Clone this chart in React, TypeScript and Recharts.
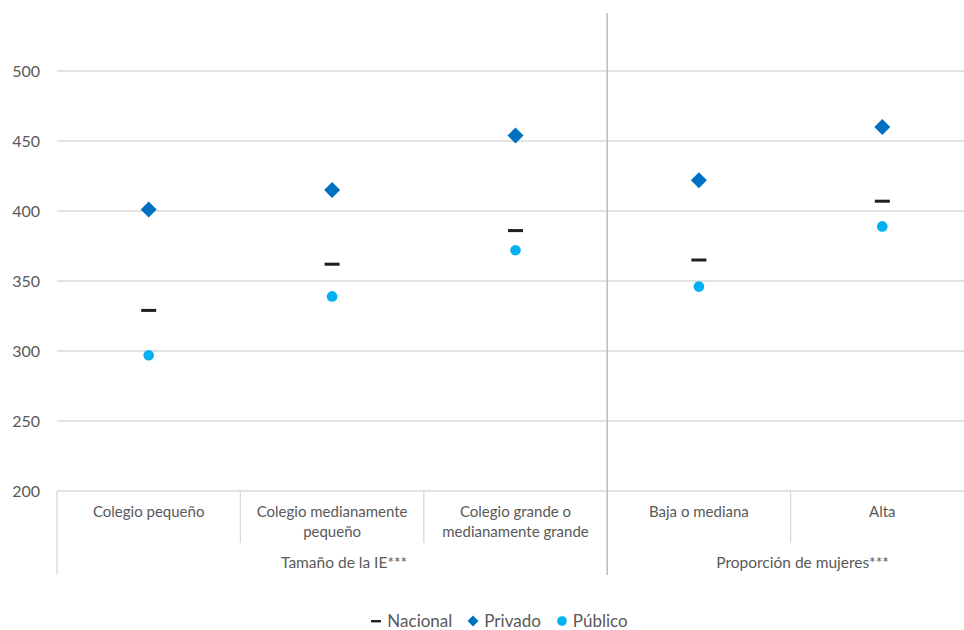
import React from "react";
import { ScatterChart, Scatter, XAxis, YAxis, ReferenceLine, Legend } from "recharts";

const categories = [
  "Colegio pequeño",
  "Colegio medianamente\npequeño",
  "Colegio grande o\nmedianamente grande",
  "Baja o mediana",
  "Alta",
];
const groups = [
  { label: "Tamaño de la IE***", from: 0, count: 3 },
  { label: "Proporción de mujeres***", from: 3, count: 2 },
];
const nacional = [329, 362, 386, 365, 407];
const privado = [401, 415, 454, 422, 460];
const publico = [297, 339, 372, 346, 389];
const yTicks = [200, 250, 300, 350, 400, 450, 500];

const FONT = "Lato, 'Open Sans', sans-serif";
const TEXT = "#595959";
const GRID = "#d9d9d9";
const C_NAC = "#1f1f1f";
const C_PRIV = "#0070c0";
const C_PUB = "#00b0f0";

const toRows = (vals: number[]) => vals.map((v, i) => ({ x: i + 0.5, y: v }));
const nacRows = toRows(nacional);
const privRows = toRows(privado);
const pubRows = toRows(publico);

const catCenters = categories.map((_, i) => i + 0.5);
const boundaries = categories.map((_, i) => i).concat([categories.length]);
const groupStarts = groups.map((g) => g.from);
const groupCenters = groups.map((g) => g.from + g.count / 2);
const allTicks = Array.from(new Set([...boundaries, ...catCenters, ...groupCenters])).sort((a, b) => a - b);

const DashShape = (p: any) => <rect x={p.cx - 7.5} y={p.cy - 1.5} width={15} height={3} fill={C_NAC} />;
const DiamondShape = (p: any) => (
  <polygon points={`${p.cx},${p.cy - 8} ${p.cx + 8},${p.cy} ${p.cx},${p.cy + 8} ${p.cx - 8},${p.cy}`} fill={C_PRIV} />
);
const DotShape = (p: any) => <circle cx={p.cx} cy={p.cy} r={5.3} fill={C_PUB} />;

const AxisTick = (p: any) => {
  const v = p.payload.value;
  const parts: any[] = [];
  if (boundaries.includes(v)) {
    const isGroupEdge = groupStarts.includes(v) || v === categories.length;
    const isSeparator = groupStarts.includes(v) && v !== 0;
    if (isSeparator) {
      parts.push(<line key="l" x1={p.x} x2={p.x} y1={p.y - 478} y2={p.y + 84} stroke="#bfbfbf" strokeWidth={1.6} />);
    } else {
      parts.push(
        <line key="l" x1={p.x} x2={p.x} y1={p.y} y2={p.y + (isGroupEdge ? 84 : 52)} stroke={GRID} strokeWidth={1.3} />
      );
    }
  }
  const ci = catCenters.indexOf(v);
  if (ci >= 0) {
    const lines = categories[ci].split("\n");
    parts.push(
      <text key="c" x={p.x} y={p.y} textAnchor="middle" fill={TEXT} fontSize={15} fontFamily={FONT}>
        {lines.map((l, i) => (
          <tspan key={i} x={p.x} dy={i === 0 ? 26 : 20}>
            {l}
          </tspan>
        ))}
      </text>
    );
  }
  const gi = groupCenters.indexOf(v);
  if (gi >= 0) {
    parts.push(
      <text key="g" x={p.x + 12} y={p.y + 77} textAnchor="middle" fill={TEXT} fontSize={15.5} fontFamily={FONT}>
        {groups[gi].label}
      </text>
    );
  }
  return <g>{parts}</g>;
};

const LegendContent = (props: any) => {
  const items = props.payload || [];
  return (
    <div
      style={{
        display: "flex",
        justifyContent: "center",
        alignItems: "center",
        height: 18,
        fontFamily: FONT,
        fontSize: 17,
        lineHeight: "18px",
        color: TEXT,
      }}
    >
      {items.map((it: any, i: number) => (
        <div key={i} style={{ display: "flex", alignItems: "center", marginRight: i < items.length - 1 ? 15 : 0 }}>
          <svg width={12} height={12} style={{ marginRight: 5 }}>
            {it.value === "Nacional" && <rect x={1} y={5} width={10} height={2.4} fill={C_NAC} />}
            {it.value === "Privado" && <polygon points="6,0.5 11.5,6 6,11.5 0.5,6" fill={C_PRIV} />}
            {it.value === "Público" && <circle cx={6} cy={6} r={4.8} fill={C_PUB} />}
          </svg>
          <span>{it.value}</span>
        </div>
      ))}
    </div>
  );
};

export default function App() {
  return (
    <div style={{ position: "absolute", left: 0, top: 0, width: 964, height: 630, overflow: "hidden", background: "#fff" }}>
      <ScatterChart width={974} height={630} margin={{ top: 1, right: 0, left: 0, bottom: 120 }}>
        <XAxis
          type="number"
          dataKey="x"
          domain={[0, categories.length]}
          ticks={allTicks}
          height={1}
          axisLine={false}
          tickLine={false}
          tickSize={0}
          tickMargin={0}
          interval={0}
          tick={<AxisTick />}
        />
        <YAxis
          type="number"
          dataKey="y"
          domain={[200, 550]}
          ticks={yTicks}
          width={57}
          axisLine={false}
          tickLine={false}
          tickSize={0}
          tickMargin={17}
          interval={0}
          tick={{ fill: TEXT, fontSize: 16, fontFamily: FONT }}
        />
        {yTicks.map((t) => (
          <ReferenceLine key={t} y={t} stroke={GRID} strokeWidth={1.3} />
        ))}
        <Legend
          verticalAlign="bottom"
          content={<LegendContent />}
          wrapperStyle={{ top: 612, bottom: "auto", left: 17, width: 964, height: 18 }}
        />
        <Scatter name="Nacional" data={nacRows} fill={C_NAC} shape={<DashShape />} isAnimationActive={false} />
        <Scatter name="Privado" data={privRows} fill={C_PRIV} shape={<DiamondShape />} isAnimationActive={false} />
        <Scatter name="Público" data={pubRows} fill={C_PUB} shape={<DotShape />} isAnimationActive={false} />
      </ScatterChart>
    </div>
  );
}
